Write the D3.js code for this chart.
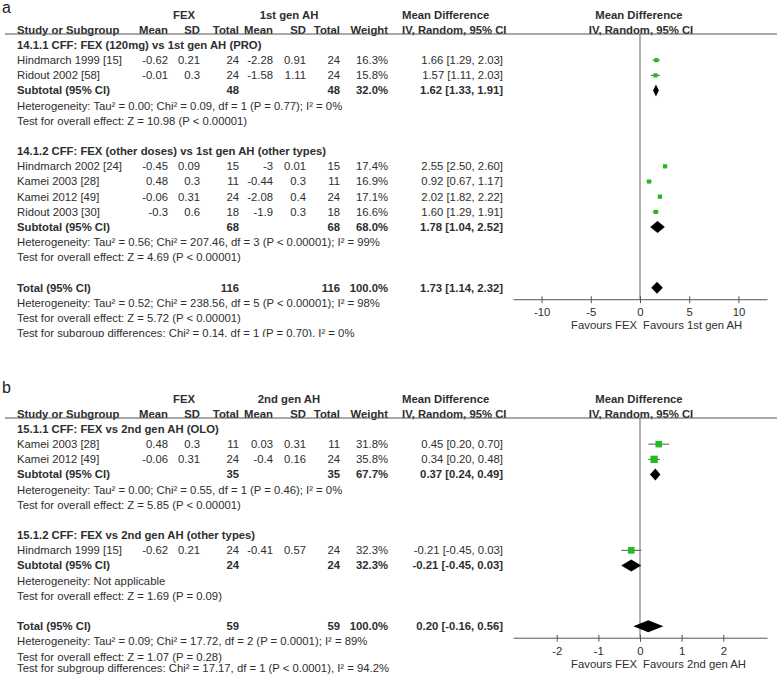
<!DOCTYPE html>
<html><head><meta charset="utf-8">
<script src="https://cdn.jsdelivr.net/npm/d3@7"></script>
<style>
body{margin:0;background:#fff}
svg{display:block}
text{font-family:"Liberation Sans",Arial,sans-serif;fill:#2e2e2e;font-size:11.3px}
</style>
</head><body>
<svg id="chart" width="778" height="676"></svg>
<script>
// ---------- Panel a data ----------
const aGroupTitles = ["14.1.1 CFF: FEX (120mg) vs 1st gen AH (PRO)", "14.1.2 CFF: FEX (other doses) vs 1st gen AH (other types)"];
const aStudies = ["Hindmarch 1999 [15]", "Ridout 2002 [58]", "Hindmarch 2002 [24]", "Kamei 2003 [28]", "Kamei 2012 [49]", "Ridout 2003 [30]"];
const aGroupIndex = [0, 0, 1, 1, 1, 1];
const aFexMean = [-0.62, -0.01, -0.45, 0.48, -0.06, -0.3];
const aFexSD = [0.21, 0.3, 0.09, 0.3, 0.31, 0.6];
const aFexN = [24, 24, 15, 11, 24, 18];
const aCtlMean = [-2.28, -1.58, -3, -0.44, -2.08, -1.9];
const aCtlSD = [0.91, 1.11, 0.01, 0.3, 0.4, 0.3];
const aCtlN = [24, 24, 15, 11, 24, 18];
const aWeight = [16.3, 15.8, 17.4, 16.9, 17.1, 16.6];
const aMD = [1.66, 1.57, 2.55, 0.92, 2.02, 1.60];
const aLo = [1.29, 1.11, 2.50, 0.67, 1.82, 1.29];
const aHi = [2.03, 2.03, 2.60, 1.17, 2.22, 1.91];
const aSubN1 = [48, 68];
const aSubN2 = [48, 68];
const aSubW = [32.0, 68.0];
const aSubMD = [1.62, 1.78];
const aSubLo = [1.33, 1.04];
const aSubHi = [1.91, 2.52];
const aSubHet = ["Heterogeneity: Tau² = 0.00; Chi² = 0.09, df = 1 (P = 0.77); I² = 0%",
                 "Heterogeneity: Tau² = 0.56; Chi² = 207.46, df = 3 (P < 0.00001); I² = 99%"];
const aSubZ = ["Test for overall effect: Z = 10.98 (P < 0.00001)",
               "Test for overall effect: Z = 4.69 (P < 0.00001)"];
const aTotalN = [116, 116];
const aTotalW = 100.0;
const aTotalEst = [1.73, 1.14, 2.32];
const aTotalNotes = ["Heterogeneity: Tau² = 0.52; Chi² = 238.56, df = 5 (P < 0.00001); I² = 98%",
                     "Test for overall effect: Z = 5.72 (P < 0.00001)",
                     "Test for subgroup differences: Chi² = 0.14, df = 1 (P = 0.70), I² = 0%"];
const aTicks = [-10, -5, 0, 5, 10];
const aDomain = [-12.9, 12.9];

// ---------- Panel b data ----------
const bGroupTitles = ["15.1.1 CFF: FEX vs 2nd gen AH (OLO)", "15.1.2 CFF: FEX vs 2nd gen AH (other types)"];
const bStudies = ["Kamei 2003 [28]", "Kamei 2012 [49]", "Hindmarch 1999 [15]"];
const bGroupIndex = [0, 0, 1];
const bFexMean = [0.48, -0.06, -0.62];
const bFexSD = [0.3, 0.31, 0.21];
const bFexN = [11, 24, 24];
const bCtlMean = [0.03, -0.4, -0.41];
const bCtlSD = [0.31, 0.16, 0.57];
const bCtlN = [11, 24, 24];
const bWeight = [31.8, 35.8, 32.3];
const bMD = [0.45, 0.34, -0.21];
const bLo = [0.20, 0.20, -0.45];
const bHi = [0.70, 0.48, 0.03];
const bSubN1 = [35, 24];
const bSubN2 = [35, 24];
const bSubW = [67.7, 32.3];
const bSubMD = [0.37, -0.21];
const bSubLo = [0.24, -0.45];
const bSubHi = [0.49, 0.03];
const bSubHet = ["Heterogeneity: Tau² = 0.00; Chi² = 0.55, df = 1 (P = 0.46); I² = 0%",
                 "Heterogeneity: Not applicable"];
const bSubZ = ["Test for overall effect: Z = 5.85 (P < 0.00001)",
               "Test for overall effect: Z = 1.69 (P = 0.09)"];
const bTotalN = [59, 59];
const bTotalW = 100.0;
const bTotalEst = [0.20, -0.16, 0.56];
const bTotalNotes = ["Heterogeneity: Tau² = 0.09; Chi² = 17.72, df = 2 (P = 0.0001); I² = 89%",
                     "Test for overall effect: Z = 1.07 (P = 0.28)",
                     "Test for subgroup differences: Chi² = 17.17, df = 1 (P < 0.0001), I² = 94.2%"];
const bTicks = [-2, -1, 0, 1, 2];
const bDomain = [-3.05, 3.05];

const headerCols = ["Mean", "SD", "Total", "Mean", "SD", "Total", "Weight"];

// ---------- drawing ----------
const svg = d3.select("#chart");
svg.append("defs").append("clipPath").attr("id", "clipA")
  .append("rect").attr("x", 0).attr("y", 0).attr("width", 778).attr("height", 337);

const fmt2 = v => v.toFixed(2);
const fmtW = w => w.toFixed(1) + "%";
const colX = [168, 200, 239, 273, 306, 340, 388]; // right edges of numeric columns
const mdX = 503;
const GREEN = "#22bb22";
const INK = "#2e2e2e";

function drawPanel(p) {
  const g = svg.append("g").attr("clip-path", p.clip ? "url(#clipA)" : null);
  const top = p.top;
  svg.append("text").attr("x", 2).attr("y", p.letterY).text(p.letter)
    .style("font-size", "16px").style("fill", "#222");
  const h1 = top + 15, h2 = top + 30;
  const bold = (xx, yy, s, anchor) => g.append("text").attr("x", xx).attr("y", yy).attr("dy", "0.35em")
    .attr("text-anchor", anchor || "start").attr("font-weight", "bold").text(s);
  bold(184, h1, "FEX", "middle");
  bold(289, h1, p.ctlName, "middle");
  bold(402, h1, "Mean Difference");
  bold(639, h1, "Mean Difference", "middle");
  bold(17, h2, "Study or Subgroup");
  headerCols.forEach((h, i) => bold(colX[i], h2, h, "end"));
  bold(402, h2, "IV, Random, 95% CI");
  bold(641, h2, "IV, Random, 95% CI", "middle");
  const ulY = h2 + 4;
  g.append("line").attr("x1", 5).attr("x2", 777).attr("y1", ulY).attr("y2", ulY)
    .attr("stroke", "#555").attr("stroke-width", 1);

  // build row list
  const rows = [];
  p.groupTitles.forEach((t, gi) => {
    rows.push({type: "title", text: t});
    p.studies.forEach((s, i) => { if (p.groupIndex[i] === gi) rows.push({type: "study", i}); });
    rows.push({type: "sub", gi});
    rows.push({type: "note", text: p.subHet[gi]});
    rows.push({type: "note", text: p.subZ[gi]});
    rows.push({type: "blank"});
  });
  rows.push({type: "total"});
  p.totalNotes.forEach(t => rows.push({type: "note", text: t}));

  const y = d3.scaleLinear().domain([0, 1]).range([top + 45, top + 45 + 15.17]);
  const x = d3.scaleLinear().domain(p.domain).range([513, 767]);
  let totalY = 0;

  const diamond = (md, lo, hi, yy, h) =>
    `M${x(lo)},${yy}L${x(md)},${yy - h}L${x(hi)},${yy}L${x(md)},${yy + h}Z`;

  const marks = g.append("g");
  rows.forEach((r, k) => {
    const yy = Math.min(y(k), 668);
    const txt = (xx, s, opts = {}) => g.append("text").attr("x", xx).attr("y", yy).attr("dy", "0.35em")
      .attr("text-anchor", opts.anchor || "start").attr("font-weight", opts.bold ? "bold" : null).text(s);
    if (r.type === "title") {
      txt(17, r.text, {bold: true});
    } else if (r.type === "study") {
      const i = r.i;
      txt(17, p.studies[i]);
      const vals = [p.fexMean[i], p.fexSD[i], p.fexN[i], p.ctlMean[i], p.ctlSD[i], p.ctlN[i]].map(String);
      vals.push(fmtW(p.weight[i]));
      vals.forEach((v, c) => txt(colX[c], v, {anchor: "end"}));
      txt(mdX, `${fmt2(p.md[i])} [${fmt2(p.lo[i])}, ${fmt2(p.hi[i])}]`, {anchor: "end"});
      marks.append("line").attr("x1", x(p.lo[i])).attr("x2", x(p.hi[i])).attr("y1", yy).attr("y2", yy)
        .attr("stroke", "#555").attr("stroke-width", 1);
      const sz = Math.max(4.2, p.weight[i] * 0.205);
      marks.append("rect").attr("x", x(p.md[i]) - sz / 2).attr("y", yy - sz / 2).attr("width", sz).attr("height", sz)
        .attr("fill", GREEN);
    } else if (r.type === "sub") {
      const gi = r.gi;
      txt(17, "Subtotal (95% CI)", {bold: true});
      txt(colX[2], String(p.subN1[gi]), {anchor: "end", bold: true});
      txt(colX[5], String(p.subN2[gi]), {anchor: "end", bold: true});
      txt(colX[6], fmtW(p.subW[gi]), {anchor: "end", bold: true});
      txt(mdX, `${fmt2(p.subMD[gi])} [${fmt2(p.subLo[gi])}, ${fmt2(p.subHi[gi])}]`, {anchor: "end", bold: true});
      marks.append("path").attr("d", diamond(p.subMD[gi], p.subLo[gi], p.subHi[gi], yy, 6)).attr("fill", "#000");
    } else if (r.type === "note") {
      txt(17, r.text);
    } else if (r.type === "total") {
      totalY = yy;
      txt(17, "Total (95% CI)", {bold: true});
      txt(colX[2], String(p.totalN[0]), {anchor: "end", bold: true});
      txt(colX[5], String(p.totalN[1]), {anchor: "end", bold: true});
      txt(colX[6], fmtW(p.totalW), {anchor: "end", bold: true});
      txt(mdX, `${fmt2(p.totalEst[0])} [${fmt2(p.totalEst[1])}, ${fmt2(p.totalEst[2])}]`, {anchor: "end", bold: true});
      marks.append("path").attr("d", diamond(p.totalEst[0], p.totalEst[1], p.totalEst[2], yy, 6)).attr("fill", "#000");
    }
  });

  const axisY = totalY + 11.5;
  g.insert("line", ":first-child").attr("x1", x(0)).attr("x2", x(0)).attr("y1", ulY).attr("y2", axisY)
    .attr("stroke", "#666").attr("stroke-width", 1);
  const ax = g.append("g").attr("transform", `translate(0,${axisY})`)
    .call(d3.axisBottom(x).tickValues(p.ticks).tickSizeInner(4).tickSizeOuter(0).tickPadding(5).tickFormat(d => String(d)));
  ax.select(".domain").attr("stroke", "#555");
  ax.selectAll(".tick line").attr("y1", -3).attr("y2", 4).attr("stroke", "#555");
  ax.selectAll(".tick text").style("font-size", "11.3px").style("font-family", "'Liberation Sans',Arial,sans-serif").attr("fill", INK);
  g.append("text").attr("x", x(0) - 3).attr("y", axisY + 26).attr("dy", "0.35em").attr("text-anchor", "end").text("Favours FEX");
  g.append("text").attr("x", x(0) + 3).attr("y", axisY + 26).attr("dy", "0.35em").text(p.favCtl);
}

drawPanel({
  top: 0, letter: "a", letterY: 13, clip: true, ctlName: "1st gen AH", favCtl: "Favours 1st gen AH",
  groupTitles: aGroupTitles, studies: aStudies, groupIndex: aGroupIndex,
  fexMean: aFexMean, fexSD: aFexSD, fexN: aFexN, ctlMean: aCtlMean, ctlSD: aCtlSD, ctlN: aCtlN,
  weight: aWeight, md: aMD, lo: aLo, hi: aHi,
  subN1: aSubN1, subN2: aSubN2, subW: aSubW, subMD: aSubMD, subLo: aSubLo, subHi: aSubHi,
  subHet: aSubHet, subZ: aSubZ, totalN: aTotalN, totalW: aTotalW, totalEst: aTotalEst,
  totalNotes: aTotalNotes, ticks: aTicks, domain: aDomain
});
drawPanel({
  top: 384, letter: "b", letterY: 393, clip: false, ctlName: "2nd gen AH", favCtl: "Favours 2nd gen AH",
  groupTitles: bGroupTitles, studies: bStudies, groupIndex: bGroupIndex,
  fexMean: bFexMean, fexSD: bFexSD, fexN: bFexN, ctlMean: bCtlMean, ctlSD: bCtlSD, ctlN: bCtlN,
  weight: bWeight, md: bMD, lo: bLo, hi: bHi,
  subN1: bSubN1, subN2: bSubN2, subW: bSubW, subMD: bSubMD, subLo: bSubLo, subHi: bSubHi,
  subHet: bSubHet, subZ: bSubZ, totalN: bTotalN, totalW: bTotalW, totalEst: bTotalEst,
  totalNotes: bTotalNotes, ticks: bTicks, domain: bDomain
});
</script>
</body></html>
